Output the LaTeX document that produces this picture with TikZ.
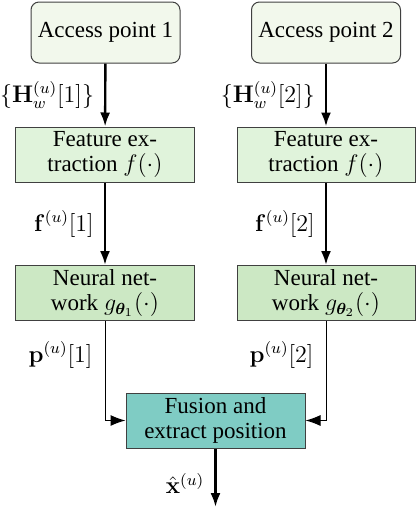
\documentclass[tikz,border=0pt]{standalone}
\usepackage{amsmath,amssymb,bm}
\usepackage[no-math]{fontspec}
\setmainfont{Liberation Serif}
\usetikzlibrary{arrows.meta}
\definecolor{apfill}{HTML}{F2F8EC}
\definecolor{fefill}{HTML}{E0F3DB}
\definecolor{nnfill}{HTML}{CCE8C4}
\definecolor{fufill}{HTML}{7FCCC4}
\definecolor{edge}{HTML}{404040}
\begin{document}
\begin{tikzpicture}[x=0.5pt,y=-0.5pt,
  every node/.style={font=\fontsize{11.5}{12.5}\selectfont},
  apbox/.style={draw=edge, line width=0.5pt, fill=apfill, rounded corners=4pt, minimum width=74.5pt, minimum height=30.5pt, inner sep=0pt, align=center},
  blockbox/.style={draw=edge, line width=0.5pt, minimum width=89pt, minimum height=27.5pt, inner sep=0pt, align=center},
  thickarrow/.style={line width=1.2pt, -{Latex[length=7pt,width=5pt]}},
  thinarrow/.style={line width=0.5pt, -{Latex[length=7.5pt,width=5.5pt]}},
  lab/.style={anchor=east, inner sep=0pt}]
\useasboundingbox (0,0) rectangle (416,521);
\node[apbox] (ap1) at (105.5,32.5) {Access point 1};
\node[apbox] (ap2) at (326,32.5) {Access point 2};
\node[blockbox, fill=fefill] (fe1) at (105,154.5) {Feature ex-\\traction $f(\cdot)$};
\node[blockbox, fill=fefill] (fe2) at (326,154.5) {Feature ex-\\traction $f(\cdot)$};
\node[blockbox, fill=nnfill] (nn1) at (105,293) {Neural net-\\work $g_{\bm{\theta}_1}(\cdot)$};
\node[blockbox, fill=nnfill] (nn2) at (326,293) {Neural net-\\work $g_{\bm{\theta}_2}(\cdot)$};
\node[blockbox, fill=fufill, minimum width=89.5pt] (fu) at (215.5,420.5) {Fusion and\\extract position};
\coordinate (out) at (215.5,507);
\draw[thickarrow] (ap1) -- (fe1) node[lab, pos=0.5, xshift=-5pt] {$\{\mathbf{H}_w^{(u)}[1]\}$};
\draw[thickarrow] (ap2) -- (fe2) node[lab, pos=0.5, xshift=-5pt] {$\{\mathbf{H}_w^{(u)}[2]\}$};
\draw[thickarrow] (fe1) -- (nn1) node[lab, pos=0.5, xshift=-5pt] {$\mathbf{f}^{(u)}[1]$};
\draw[thickarrow] (fe2) -- (nn2) node[lab, pos=0.5, xshift=-5pt] {$\mathbf{f}^{(u)}[2]$};
\draw[thinarrow] (nn1.south) |- (fu.west) node[lab, pos=0.17, xshift=-6pt] {$\mathbf{p}^{(u)}[1]$};
\draw[thinarrow] (nn2.south) |- (fu.east) node[lab, pos=0.17, xshift=-6pt] {$\mathbf{p}^{(u)}[2]$};
\draw[thickarrow] (fu) -- (out) node[lab, pos=0.6, xshift=-5pt] {$\hat{\mathbf{x}}^{(u)}$};
\end{tikzpicture}
\end{document}
